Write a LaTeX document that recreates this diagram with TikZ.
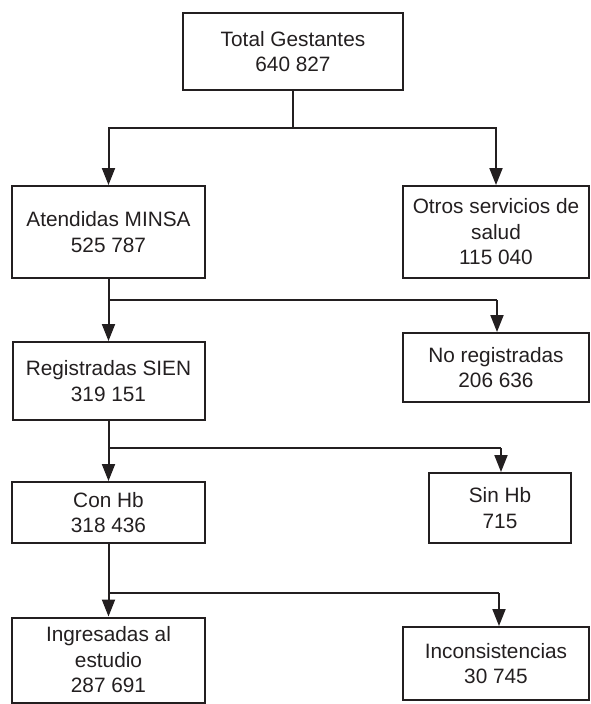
\documentclass[tikz,border=0pt]{standalone}
\usepackage{fontspec}
\setmainfont{Liberation Sans}
\usetikzlibrary{arrows.meta}
\definecolor{ink}{HTML}{231F20}
\begin{document}
\begin{tikzpicture}[x=1pt,y=-1pt,
  boxnode/.style={draw=ink, line width=2pt, inner sep=0pt, align=center,
    font=\fontsize{20.8}{25.5}\selectfont, text=ink},
  conn/.style={draw=ink, line width=2pt},
  arr/.style={conn, -{Triangle[length=17pt,width=13pt]}}]
\useasboundingbox (0,0) rectangle (591,704);
\node[boxnode, minimum width=220pt, minimum height=77pt] (total) at (293,51.5) {Total Gestantes\\640 827};
\node[boxnode, minimum width=193pt, minimum height=92pt] (aten) at (108.5,232) {Atendidas MINSA\\525 787};
\node[boxnode, minimum width=186pt, minimum height=92pt] (otros) at (496,232) {Otros servicios de\\salud\\115 040};
\node[boxnode, minimum width=192pt, minimum height=78pt] (reg) at (108.5,381) {Registradas SIEN\\319 151};
\node[boxnode, minimum width=186pt, minimum height=69pt] (noreg) at (496,367.5) {No registradas\\206 636};
\node[boxnode, minimum width=193pt, minimum height=61pt] (con) at (108.5,512.5) {Con Hb\\318 436};
\node[boxnode, minimum width=142pt, minimum height=70pt] (sin) at (500,508) {Sin Hb\\715};
\node[boxnode, minimum width=193pt, minimum height=85pt] (ingr) at (108.5,660) {Ingresadas al\\estudio\\287 691};
\node[boxnode, minimum width=186pt, minimum height=73pt] (incon) at (496,663.5) {Inconsistencias\\30 745};
% level 1
\coordinate (j1) at (293,128);
\draw[conn] (total.south) -- (j1);
\draw[arr] (j1) -| (aten.north);
\draw[arr] (j1) -| (otros.north);
% level 2
\coordinate (j2) at (108.5,300);
\coordinate (e2) at (497,300);
\draw[arr] (aten.south) -- (reg.north);
\draw[conn] (j2) -- (e2);
\draw[arr] (e2) -- (e2 |- noreg.north);
% level 3
\coordinate (j3) at (108.5,448);
\coordinate (e3) at (501,448);
\draw[arr] (reg.south) -- (con.north);
\draw[conn] (j3) -- (e3);
\draw[arr] (e3) -- (e3 |- sin.north);
% level 4
\coordinate (j4) at (108.5,593);
\coordinate (e4) at (499,593);
\draw[arr] (con.south) -- (ingr.north);
\draw[conn] (j4) -- (e4);
\draw[arr] (e4) -- (e4 |- incon.north);
\end{tikzpicture}
\end{document}
